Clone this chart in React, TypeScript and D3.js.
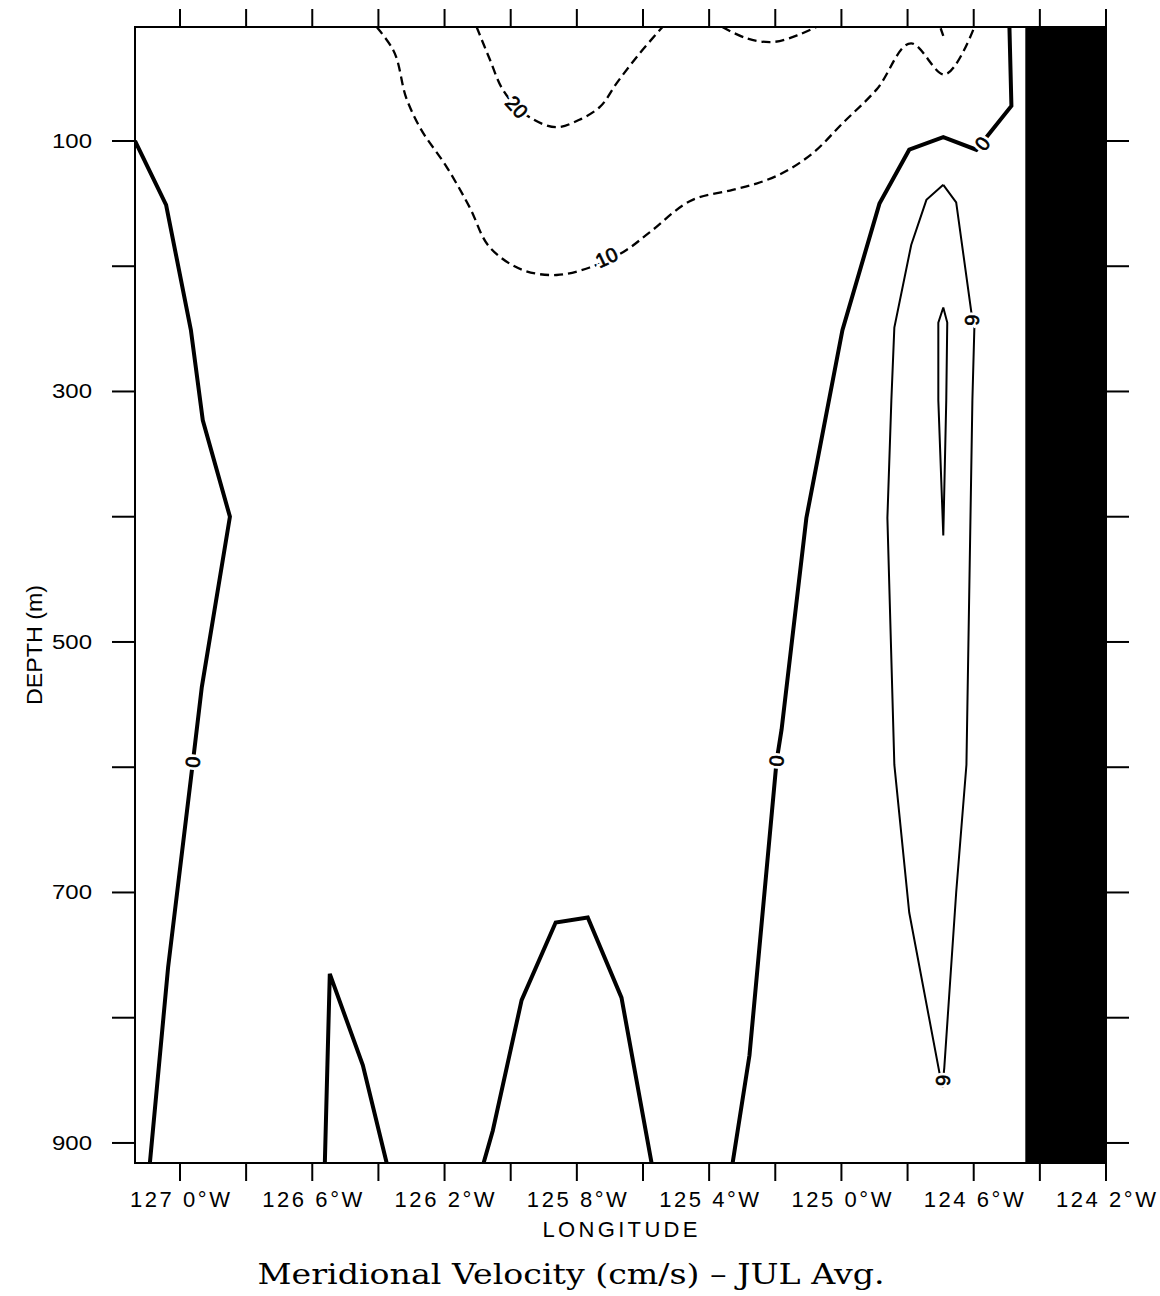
import React from 'react';
import * as d3 from 'd3';

// ---- axes ----
const lonDomain = [127.136, 124.2];
const depthDomain = [9, 916];
const lonTickValues = [127.0, 126.8, 126.6, 126.4, 126.2, 126.0, 125.8, 125.6, 125.4, 125.2, 125.0, 124.8, 124.6, 124.4, 124.2];
const lonLabelValues = [127.0, 126.6, 126.2, 125.8, 125.4, 125.0, 124.6, 124.2];
const lonLabelTexts = ['127 0°W', '126 6°W', '126 2°W', '125 8°W', '125 4°W', '125 0°W', '124 6°W', '124 2°W'];
const depthTickValues = [100, 200, 300, 400, 500, 600, 700, 800, 900];
const depthLabelValues = [100, 300, 500, 700, 900];

// ---- land mask (east of this longitude) ----
const landWestEdge = 124.444;

// ---- contours: [lon (°W), depth (m)] ----
const zeroContourWest: [number, number][] = [
  [127.136, 100], [127.042, 151], [126.967, 251], [126.931, 323], [126.849, 400],
  [126.934, 536], [126.961, 596], [127.036, 760], [127.091, 916],
];
const zeroContourSmall: [number, number][] = [
  [126.562, 916], [126.547, 765], [126.447, 838], [126.375, 916],
];
const zeroContourHump: [number, number][] = [
  [126.082, 916], [126.054, 890], [125.967, 786], [125.864, 724], [125.767, 720],
  [125.665, 784], [125.574, 916],
];
const zeroContourEast: [number, number][] = [
  [125.329, 916], [125.278, 830], [125.196, 595], [125.181, 570], [125.106, 401],
  [124.997, 251], [124.885, 150], [124.795, 107], [124.692, 97], [124.592, 107],
  [124.486, 72], [124.492, 9],
];
const pos6Contour: [number, number][] = [
  [124.692, 135], [124.653, 149], [124.607, 237], [124.598, 249], [124.604, 307],
  [124.622, 598], [124.653, 700], [124.689, 840], [124.695, 856], [124.795, 716],
  [124.840, 598], [124.861, 401], [124.849, 307], [124.840, 249], [124.789, 183],
  [124.743, 147], [124.692, 135],
];
const pos12Contour: [number, number][] = [
  [124.692, 233], [124.680, 245], [124.683, 307], [124.692, 415], [124.707, 307],
  [124.707, 245], [124.692, 233],
];
const neg10Contour: [number, number][] = [
  [126.405, 9], [126.356, 27], [126.314, 67], [126.275, 89], [126.193, 121],
  [126.124, 153], [126.063, 185], [125.964, 203], [125.861, 207], [125.761, 201],
  [125.650, 187], [125.580, 173], [125.450, 147], [125.329, 139], [125.257, 134],
  [125.181, 126], [125.088, 110], [124.997, 86], [124.894, 59], [124.789, 22],
  [124.689, 47], [124.598, 9],
];
const neg20Contour: [number, number][] = [
  [126.103, 9], [126.063, 35], [126.024, 59], [125.982, 73], [125.943, 81],
  [125.861, 89], [125.792, 83], [125.731, 73], [125.680, 54], [125.610, 30], [125.541, 9],
];
const neg20ContourB: [number, number][] = [
  [125.360, 9], [125.287, 18], [125.208, 21], [125.127, 15], [125.076, 9],
];
const neg20ContourC: [number, number][] = [
  [124.700, 10], [124.692, 16],
];

const contourLabelTexts = ['0', '0', '0', '6', '6', '10', '20'];
const contourLabelPos: [number, number][] = [
  [126.961, 596], [125.196, 595], [124.574, 102], [124.604, 243], [124.692, 850], [125.710, 193], [125.982, 73],
];
const contourLabelAngle = [-85, -85, -52, 90, 90, -25, 48];

const titleText = 'Meridional Velocity (cm/s) – JUL Avg.';

export default function App() {
  const W = 1160, H = 1296;
  const L = 135, R = 1106, T = 27, B = 1163;
  const x = d3.scaleLinear().domain(lonDomain).range([L, R]);
  const y = d3.scaleLinear().domain(depthDomain).range([T, B]);
  const lineLin = d3.line<[number, number]>().x(d => x(d[0])).y(d => y(d[1]));
  const lineSmooth = d3.line<[number, number]>().x(d => x(d[0])).y(d => y(d[1])).curve(d3.curveCatmullRom.alpha(0.9));

  const zeros = [zeroContourWest, zeroContourSmall, zeroContourHump, zeroContourEast];
  const dashed = [neg10Contour, neg20Contour, neg20ContourB, neg20ContourC];
  const sans = "'Liberation Sans', Arial, sans-serif";

  return (
    <svg width={W} height={H} viewBox={`0 0 ${W} ${H}`} style={{ position: 'absolute', left: 0, top: 0, background: '#fff' }}>
      <rect x={0} y={0} width={W} height={H} fill="#fff" />
      <defs>
        <clipPath id="plot"><rect x={L} y={T} width={R - L} height={B - T} /></clipPath>
      </defs>
      {/* land */}
      <rect x={x(landWestEdge)} y={T} width={R - x(landWestEdge)} height={B - T} fill="#000" />
      <g clipPath="url(#plot)" fill="none" strokeLinejoin="miter" strokeLinecap="butt">
        {zeros.map((c, i) => <path key={'z' + i} d={lineLin(c) || ''} stroke="#000" strokeWidth={4} />)}
        <path d={lineLin(pos6Contour) || ''} stroke="#000" strokeWidth={2} />
        <path d={lineLin(pos12Contour) || ''} stroke="#000" strokeWidth={2} />
        {dashed.map((c, i) => <path key={'n' + i} d={lineSmooth(c) || ''} stroke="#000" strokeWidth={2.3} strokeDasharray="9 5" />)}
      </g>
      {contourLabelTexts.map((t, i) => {
        const px = x(contourLabelPos[i][0]);
        const py = y(contourLabelPos[i][1]);
        const tr = `translate(${px},${py}) rotate(${contourLabelAngle[i]})`;
        return (
          <g key={'cl' + i} transform={tr}>
            <text x={0} y={0} textAnchor="middle" dominantBaseline="central" fontFamily={sans} fontSize={20}
              fill="#fff" stroke="#fff" strokeWidth={6}>{t}</text>
            <text x={0} y={0} textAnchor="middle" dominantBaseline="central" fontFamily={sans} fontSize={20}
              fill="#000" stroke="#000" strokeWidth={0.7}>{t}</text>
          </g>
        );
      })}
      {/* frame */}
      <rect x={L} y={T} width={R - L} height={B - T} fill="none" stroke="#000" strokeWidth={2} />
      {/* lon ticks */}
      {lonTickValues.map((v, i) => (
        <g key={'lt' + i} stroke="#000" strokeWidth={2}>
          <line x1={x(v)} x2={x(v)} y1={T} y2={T - 18} />
          <line x1={x(v)} x2={x(v)} y1={B} y2={B + 18} />
        </g>
      ))}
      {lonLabelValues.map((v, i) => (
        <text key={'ll' + i} x={x(v)} y={1207} textAnchor="middle" fontFamily={sans} fontSize={22}
          textLength={100} lengthAdjust="spacing">{lonLabelTexts[i]}</text>
      ))}
      <text x={620} y={1237} textAnchor="middle" fontFamily={sans} fontSize={22} textLength={155} lengthAdjust="spacing">LONGITUDE</text>
      {/* depth ticks */}
      {depthTickValues.map((v, i) => (
        <g key={'dt' + i} stroke="#000" strokeWidth={2}>
          <line x1={L} x2={L - 23} y1={y(v)} y2={y(v)} />
          <line x1={R} x2={R + 23} y1={y(v)} y2={y(v)} />
        </g>
      ))}
      {depthLabelValues.map((v, i) => (
        <text key={'dl' + i} x={92} y={y(v)} textAnchor="end" dominantBaseline="central" fontFamily={sans} fontSize={20}
          textLength={40} lengthAdjust="spacingAndGlyphs">{String(v)}</text>
      ))}
      <text transform={`translate(42,645) rotate(-90)`} textAnchor="middle" fontFamily={sans} fontSize={22}
        textLength={120} lengthAdjust="spacingAndGlyphs">DEPTH (m)</text>
      <text x={571} y={1284} textAnchor="middle" fontFamily="'DejaVu Serif', serif" fontSize={27}
        textLength={627} lengthAdjust="spacingAndGlyphs">{titleText}</text>
    </svg>
  );
}
